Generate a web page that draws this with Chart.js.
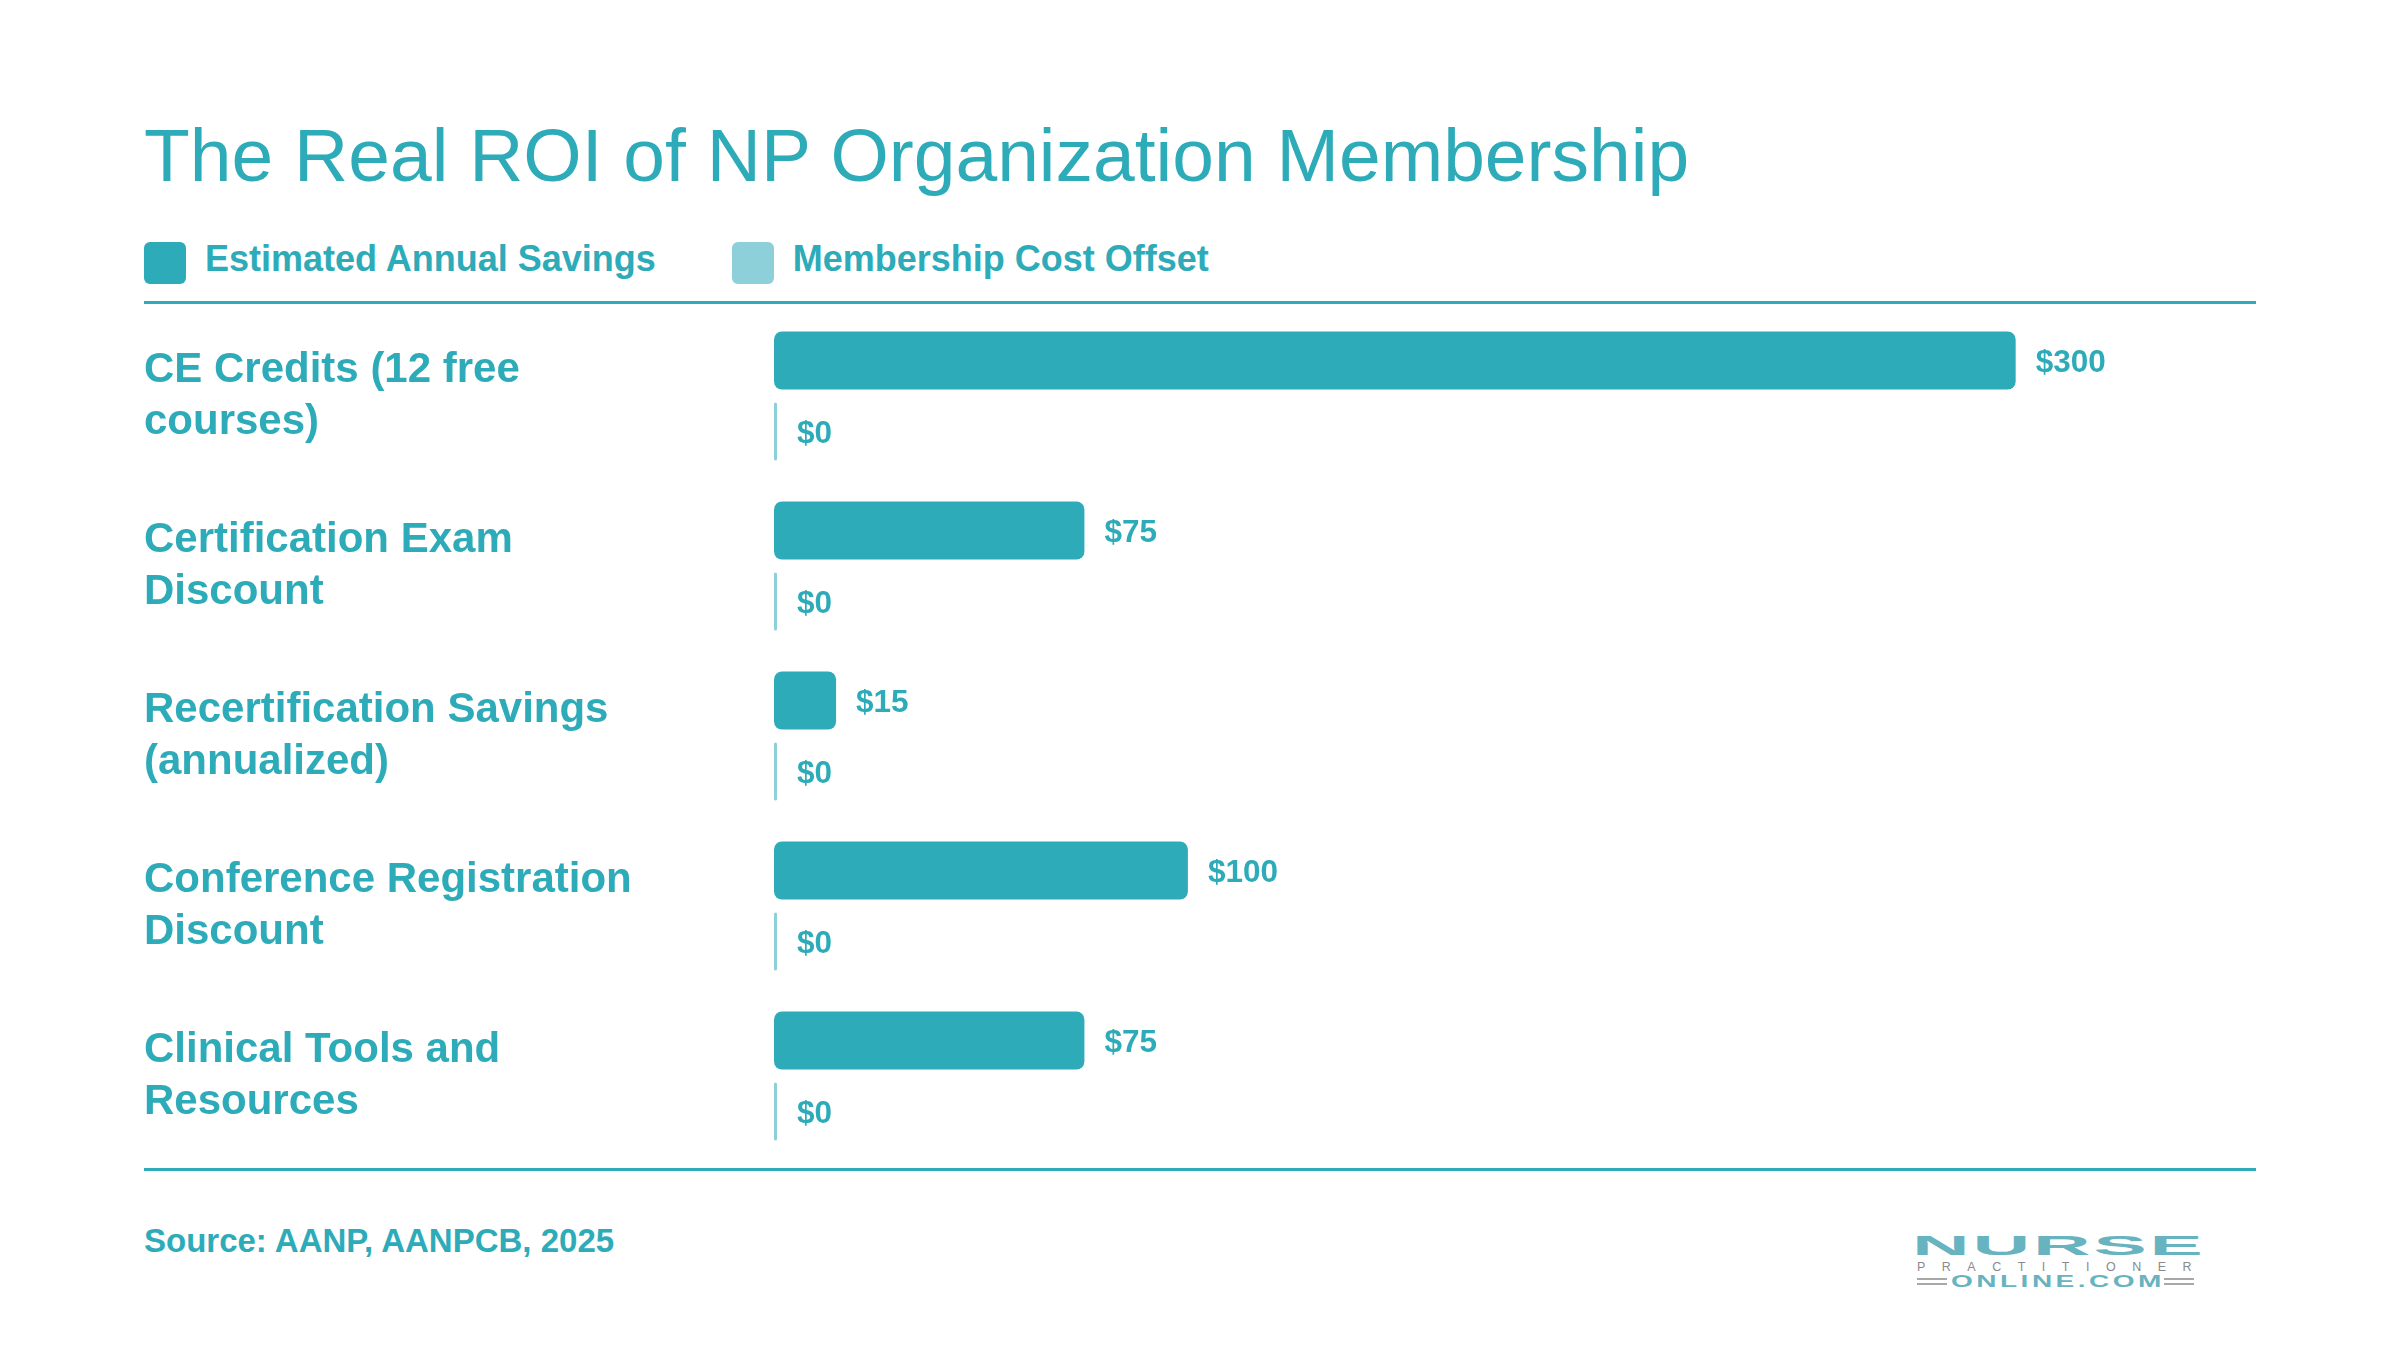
<!DOCTYPE html>
<html>
<head>
<meta charset="utf-8">
<script src="https://cdn.jsdelivr.net/npm/chart.js@4.4.1/dist/chart.umd.min.js"></script>
<style>
  html, body { margin: 0; padding: 0; background: #fff; }
  body { width: 2400px; height: 1350px; position: relative; overflow: hidden; font-family: "Liberation Sans", Arial, Helvetica, sans-serif; color: #2EABB8; }
  .title { position: absolute; left: 144px; top: 118px; font-size: 75px; line-height: 1; white-space: nowrap; }
  .legend { position: absolute; left: 144px; top: 242px; display: flex; align-items: center; font-size: 36px; font-weight: bold; line-height: 1; }
  .legend .sw { width: 42px; height: 42px; border-radius: 6px; margin-right: 19px; }
  .legend .item { display: flex; align-items: center; margin-right: 76px; }
  .legend span { position: relative; top: -4px; }
  .rule { position: absolute; left: 144px; width: 2112px; height: 3px; background: #2EABB8; }
  .chart-wrap { position: absolute; left: 0; top: 305px; width: 2400px; height: 860px; }
  .source { position: absolute; left: 144px; top: 1224px; font-size: 33px; font-weight: bold; line-height: 1; }
  .logo { position: absolute; left: 1912px; top: 1230px; width: 290px; height: 60px; }
  .logo div { position: absolute; white-space: nowrap; transform-origin: left top; }
  .logo .nurse { left: 0; top: 0; font-size: 28px; font-weight: bold; color: #67B4C0; letter-spacing: 1px; transform: scaleX(2.85); }
  .logo .prac { left: 5px; top: 30px; font-size: 12.5px; color: #8a8a8a; letter-spacing: 16.5px; }
  .logo .online { left: 39px; top: 43px; font-size: 16px; font-weight: bold; color: #67B4C0; letter-spacing: 2px; transform: scaleX(1.75); }
  .logo .ln { position: absolute; height: 2px; width: 30px; background: #a8a8a8; }
</style>
</head>
<body>
<div class="title">The Real ROI of NP Organization Membership</div>
<div class="legend" id="legend"></div>
<div class="rule" style="top:301px"></div>
<div class="chart-wrap"><canvas id="roiChart" width="2400" height="860"></canvas></div>
<div class="rule" style="top:1168px"></div>
<div class="source">Source: AANP, AANPCB, 2025</div>
<div class="logo">
  <div class="nurse">NURSE</div>
  <div class="prac">PRACTITIONER</div>
  <div class="ln" style="left:5px;top:48px"></div>
  <div class="ln" style="left:5px;top:53px"></div>
  <div class="online">ONLINE.COM</div>
  <div class="ln" style="left:252px;top:48px"></div>
  <div class="ln" style="left:252px;top:53px"></div>
</div>
<script>
const categories = [
    ["CE Credits (12 free", "courses)"],
    ["Certification Exam", "Discount"],
    ["Recertification Savings", "(annualized)"],
    ["Conference Registration", "Discount"],
    ["Clinical Tools and", "Resources"]
];
const seriesNames = ["Estimated Annual Savings", "Membership Cost Offset"];
const annualSavings = [300, 75, 15, 100, 75];
const costOffset = [0, 0, 0, 0, 0];
const xMax = 360;

const TEAL = '#2EABB8';
const LIGHT_TEAL = '#8ED0D9';
const FONT = '"Liberation Sans", Arial, Helvetica, sans-serif';

// legend built from the series names
const legendEl = document.getElementById('legend');
[TEAL, LIGHT_TEAL].forEach((color, i) => {
    legendEl.insertAdjacentHTML('beforeend',
        `<div class="item"><div class="sw" style="background:${color}"></div><span>${seriesNames[i]}</span></div>`);
});

// draws "$value" right of each bar
const valueLabels = {
    id: 'valueLabels',
    afterDatasetsDraw(chart) {
        const ctx = chart.ctx;
        ctx.save();
        ctx.font = `bold 31.5px ${FONT}`;
        ctx.fillStyle = TEAL;
        ctx.textAlign = 'left';
        ctx.textBaseline = 'middle';
        chart.data.datasets.forEach((ds, i) => {
            chart.getDatasetMeta(i).data.forEach((bar, j) => {
                ctx.fillText('$' + ds.data[j], bar.x + 20, bar.y + 3);
            });
        });
        ctx.restore();
    }
};

const ctx = document.getElementById('roiChart').getContext('2d');
new Chart(ctx, {
    type: 'bar',
    data: {
        labels: categories,
        datasets: [{
            label: seriesNames[0],
            data: annualSavings,
            backgroundColor: TEAL,
            borderRadius: 8,
            borderSkipped: false,
            barPercentage: 0.82,
            categoryPercentage: 0.835
        }, {
            label: seriesNames[1],
            data: costOffset,
            backgroundColor: LIGHT_TEAL,
            borderRadius: 1.5,
            borderSkipped: false,
            minBarLength: 3,
            barPercentage: 0.82,
            categoryPercentage: 0.835
        }]
    },
    options: {
        indexAxis: 'y',
        responsive: false,
        animation: false,
        layout: { padding: { left: 144, right: 136, top: 6, bottom: 4 } },
        scales: {
            x: { min: 0, max: xMax, display: false, grid: { display: false } },
            y: {
                grid: { display: false },
                border: { display: false },
                ticks: {
                    crossAlign: 'far',
                    color: TEAL,
                    font: { family: FONT, size: 42, weight: 'bold', lineHeight: 1.24 }
                },
                afterFit: scale => {
                    scale.width = 630;
                    // two-line labels would otherwise push the plot area in
                    scale.paddingTop = 0;
                    scale.paddingBottom = 0;
                }
            }
        },
        plugins: {
            legend: { display: false },
            tooltip: { enabled: false },
            title: { display: false }
        }
    },
    plugins: [valueLabels]
});
</script>
</body>
</html>
